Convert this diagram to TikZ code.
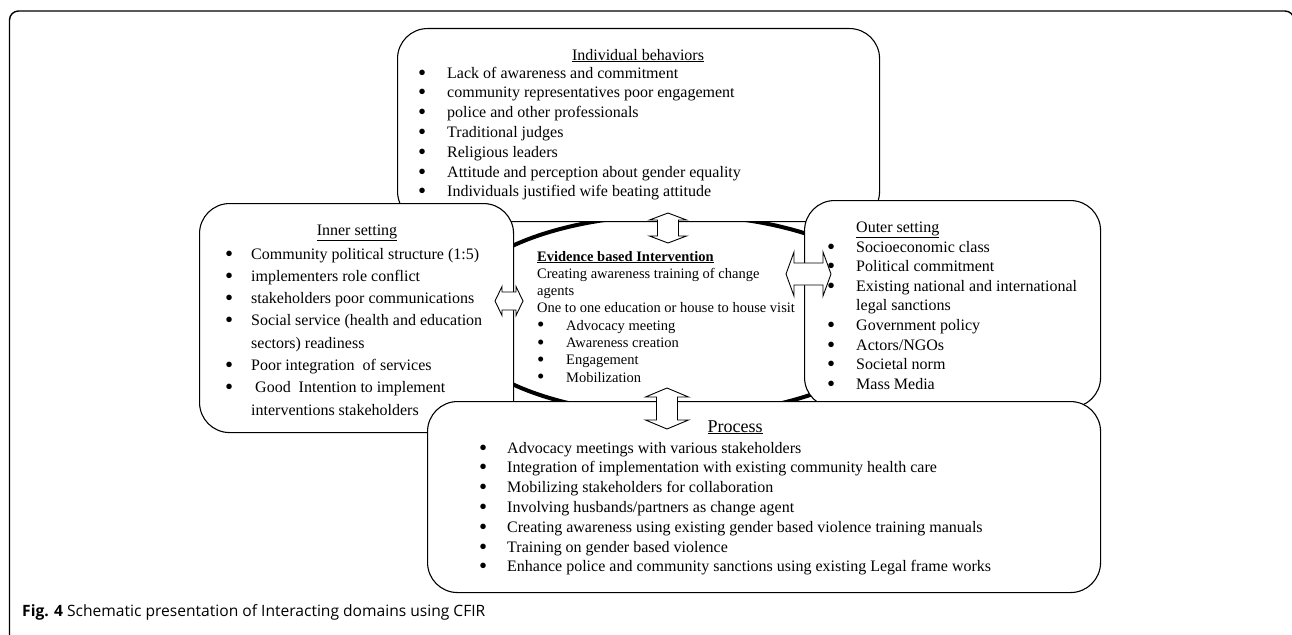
\documentclass[tikz,border=0pt]{standalone}
\usepackage{fontspec}
\setmainfont{Liberation Serif}
\newfontfamily\capfont{Open Sans}
\usetikzlibrary{shapes.geometric}
% large list bullet
\newcommand\bul{\smash{\raisebox{-2pt}{\fontsize{23}{23}\selectfont\textbullet}}}
\newcommand\sbul{\smash{\raisebox{-1.6pt}{\fontsize{21}{21}\selectfont\textbullet}}}
% horizontal double block arrow: #1 left x, #2 right x, #3 centre y, #4 shaft half, #5 head half, #6 head length
\newcommand\hdarrow[6]{\draw[blockarrow] (#1,#3) -- (#1+#6,#3-#5) -- (#1+#6,#3-#4) -- (#2-#6,#3-#4) -- (#2-#6,#3-#5) -- (#2,#3) -- (#2-#6,#3+#5) -- (#2-#6,#3+#4) -- (#1+#6,#3+#4) -- (#1+#6,#3+#5) -- cycle;}
% vertical double block arrow: #1 top y, #2 bottom y, #3 centre x, #4 shaft half, #5 head half, #6 head length
\newcommand\vdarrow[6]{\draw[blockarrow] (#3,#1) -- (#3+#5,#1+#6) -- (#3+#4,#1+#6) -- (#3+#4,#2-#6) -- (#3+#5,#2-#6) -- (#3,#2) -- (#3-#5,#2-#6) -- (#3-#4,#2-#6) -- (#3-#4,#1+#6) -- (#3-#5,#1+#6) -- cycle;}
\begin{document}
\begin{tikzpicture}[x=1pt,y=-1pt,
  box/.style={rectangle, draw=black, line width=1.1pt, fill=white, rounded corners=30pt, inner sep=0pt, anchor=north west},
  blockarrow/.style={draw=black, line width=0.9pt, fill=white, line join=miter},
  listtxt/.style={anchor=base west, inner sep=0pt, align=left},
  ttl/.style={anchor=base, inner sep=0pt, font=\fontsize{16}{19.8}\selectfont},
]
\useasboundingbox (0,0) rectangle (1292,634);
\clip (0,0) rectangle (1292,634);
\fill[white] (0,0) rectangle (1292,634);
% outer frame
\draw[line width=1.4pt, rounded corners=9pt] (9.5,11) rectangle (1294,680);

% central ellipse
\node[ellipse, draw=black, line width=4pt, minimum width=450pt, minimum height=200pt, inner sep=0pt] (ebi) at (675,315) {};

% boxes
\node[box, minimum width=482pt, minimum height=193pt] (indiv) at (397,28) {};
\node[box, minimum width=314pt, minimum height=229pt] (inner) at (199,203) {};
\node[box, minimum width=296pt, minimum height=207pt] (outer) at (804,200) {};
\node[box, minimum width=673pt, minimum height=191pt] (proc) at (427,401) {};

% Individual behaviors
\node[ttl] (indivT) at (638,60) {\underline{Individual behaviors}};
\node[listtxt, font=\fontsize{16}{19.8}\selectfont] (indivL) at (418,78) {\begin{tabular}[t]{@{}p{29pt}@{}l@{}}
\bul & Lack of awareness and commitment\\
\bul & community representatives poor engagement\\
\bul & police and other professionals\\
\bul & Traditional judges\\
\bul & Religious leaders\\
\bul & Attitude and perception about gender equality\\
\bul & Individuals justified wife beating attitude
\end{tabular}};

% Inner setting
\node[ttl] (innerT) at (357,235) {\underline{Inner setting}};
\node[listtxt, font=\fontsize{16}{22.3}\selectfont] (innerL) at (225,259) {\begin{tabular}[t]{@{}p{26pt}@{}l@{}}
\bul & Community political structure (1:5)\\
\bul & implementers role conflict\\
\bul & stakeholders poor communications\\
\bul & Social service (health and education\\
 & sectors) readiness\\
\bul & Poor integration\ \ of services\\
\bul & \ Good\ \ Intention to implement\\
 & interventions stakeholders
\end{tabular}};

% Outer setting
\node[anchor=base west, inner sep=0pt, font=\fontsize{16}{19.6}\selectfont] (outerT) at (856,232) {\underline{Outer setting}};
\node[listtxt, font=\fontsize{16}{19.6}\selectfont] (outerL) at (827,252) {\begin{tabular}[t]{@{}p{29pt}@{}l@{}}
\bul & Socioeconomic class\\
\bul & Political commitment\\
\bul & Existing national and international\\
 & legal sanctions\\
\bul & Government policy\\
\bul & Actors/NGOs\\
\bul & Societal norm\\
\bul & Mass Media
\end{tabular}};

% Evidence based intervention
\begin{scope}
\clip (500,240) rectangle (820,381);
\node[listtxt, font=\fontsize{14.5}{17.3}\selectfont] (ebiL) at (537,261) {\begin{tabular}[t]{@{}p{29pt}@{}l@{}}
\multicolumn{2}{@{}l@{}}{\underline{\textbf{Evidence based Intervention}}}\\
\multicolumn{2}{@{}l@{}}{Creating awareness training of change}\\
\multicolumn{2}{@{}l@{}}{agents}\\
\multicolumn{2}{@{}l@{}}{One to one education or house to house visit}\\
\sbul & Advocacy meeting\\
\sbul & Awareness creation\\
\sbul & Engagement\\
\sbul & Mobilization
\end{tabular}};
\end{scope}

% Process
\node[anchor=base, inner sep=0pt, font=\fontsize{18}{20}\selectfont] (procT) at (735,432) {\underline{Process}};
\node[listtxt, font=\fontsize{16}{19.8}\selectfont] (procL) at (479,453) {\begin{tabular}[t]{@{}p{28pt}@{}l@{}}
\bul & Advocacy meetings with various stakeholders\\
\bul & Integration of implementation with existing community health care\\
\bul & Mobilizing stakeholders for collaboration\\
\bul & Involving husbands/partners as change agent\\
\bul & Creating awareness using existing gender based violence training manuals\\
\bul & Training on gender based violence\\
\bul & Enhance police and community sanctions using existing Legal frame works
\end{tabular}};

% double block arrows
\vdarrow{213}{243}{668}{10.5}{18.5}{7}
\vdarrow{388}{429}{667}{10.5}{21.5}{9}
\hdarrow{495}{523}{301}{9}{14.5}{7}
\hdarrow{786}{831}{274}{11}{22}{8}

% caption
\node[anchor=base west, inner sep=0pt, font=\capfont\fontsize{15.6}{18}\selectfont] (cap) at (22,616) {\textbf{Fig. 4} Schematic presentation of Interacting domains using CFIR};
\end{tikzpicture}
\end{document}
